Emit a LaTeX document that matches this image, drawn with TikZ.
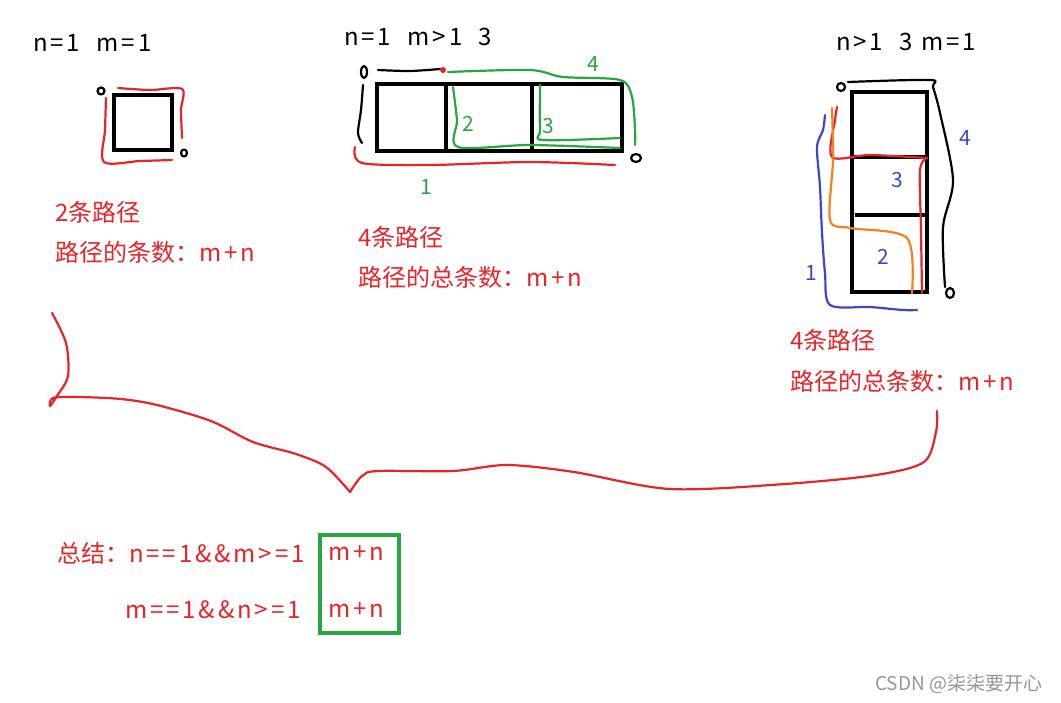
\documentclass[tikz,border=0pt]{standalone}
\usepackage{fontspec}
\setmainfont{Noto Sans CJK SC}
\newfontfamily\lt[LetterSpace=12]{Noto Sans CJK SC}
\definecolor{pred}{RGB}{232,36,40}
\definecolor{pgreen}{RGB}{38,168,64}
\definecolor{pblue}{RGB}{60,72,200}
\definecolor{porange}{RGB}{246,128,30}
\definecolor{wm}{RGB}{150,150,150}
\tikzset{
  cell/.style={draw=black, line width=4pt},
  pen/.style={line width=2.2pt, line cap=round, line join=round},
  redpen/.style={pen, draw=pred},
  greenpen/.style={pen, draw=pgreen},
  bluepen/.style={pen, draw=pblue},
  orangepen/.style={pen, draw=porange},
  blackpen/.style={pen, draw=black},
  ttl/.style={anchor=west, inner sep=0pt, font=\fontsize{24}{28}\selectfont, text=black},
  rtxt/.style={anchor=west, inner sep=0pt, font=\fontsize{24}{28}\selectfont, text=pred},
  hand/.style={inner sep=0pt, font=\fontsize{21}{24}\selectfont},
}
\begin{document}
\begin{tikzpicture}[x=1pt,y=-1pt]
\useasboundingbox[fill=white] (0,0) rectangle (1061,702);

% ---------- left case ----------
\node[ttl] (t1) at (33,43) {\lt n=1\ \ m=1};
\draw[cell] (114,95) rectangle (172,150);
\draw[blackpen] (101,91) ellipse (3.5 and 3.5);
\draw[blackpen] (184,153) ellipse (3 and 3.5);
\draw[redpen] plot[smooth] coordinates {(118,88) (150,90) (182,89) (181,110) (182,138)};
\draw[redpen] plot[smooth] coordinates {(106,98) (105,130) (104,162) (140,161) (172,160)};
\node[rtxt] (a1) at (55,212) {2条路径};
\node[rtxt] (a2) at (55,252) {路径的条数：{\lt m+n}};

% ---------- middle case ----------
\node[ttl] (t2) at (344,37) {\lt n=1\ \ m>1\ \ 3};
\draw[cell] (377,84) rectangle (622,151);
\draw[cell] (446,84) -- (446,151);
\draw[cell] (532,84) -- (532,151);
\draw[blackpen] (364,72) ellipse (3 and 6);
\draw[blackpen] plot[smooth] coordinates {(378,70) (410,71) (440,69)};
\fill[pred] (443,70) circle (3);
\draw[blackpen] plot[smooth] coordinates {(363,85) (361,110) (358,133) (362,143)};
\draw[redpen] plot[smooth] coordinates {(355,147) (362,163) (430,165) (530,162) (615,165)};
\draw[greenpen] plot[smooth] coordinates {(448,72) (530,70) (563,77) (620,80) (632,97) (635,130) (635,145)};
\draw[greenpen] plot[smooth] coordinates {(453,87) (457,120) (458,147) (530,145) (620,148)};
\draw[greenpen] plot[smooth] coordinates {(540,85) (540,130) (543,140) (620,138)};
\draw[blackpen] (636,158) ellipse (5 and 4);
\node[hand, text=pgreen] (g4) at (593,64) {4};
\node[hand, text=pgreen] (g2) at (468,124) {2};
\node[hand, text=pgreen] (g3) at (548,126) {3};
\node[hand, text=pgreen] (g1) at (426,187) {1};
\node[rtxt] (b1) at (358,237) {4条路径};
\node[rtxt] (b2) at (358,277) {路径的总条数：{\lt m+n}};

% ---------- right case ----------
\node[ttl] (t3) at (836,42) {\lt n>1\ \ 3 m=1};
\draw[cell] (852,92) rectangle (927,292);
\draw[cell] (852,157) -- (927,157);
\draw[cell] (855,215) -- (927,215);
\draw[blackpen] (841,87) ellipse (4 and 4);
\draw[blackpen] plot[smooth] coordinates {(848,82) (930,80) (933,87) (940,113) (953,180) (943,227) (945,287)};
\draw[blackpen] (950,293) ellipse (4 and 5);
\draw[bluepen] plot[smooth] coordinates {(825,115) (823,130) (817,147) (820,187) (822,233) (825,273) (830,305) (870,307) (903,310) (917,310)};
\draw[redpen] plot[smooth] coordinates {(837,107) (835,120) (832,157) (870,155) (927,158)};
\draw[redpen] plot[smooth] coordinates {(927,158) (920,170) (921,230) (922,293)};
\draw[orangepen] plot[smooth] coordinates {(832,108) (833,160) (830,220) (850,228) (907,238) (912,293)};
\node[hand, text=pblue] (u4) at (965,138) {4};
\node[hand, text=pblue] (u3) at (897,180) {3};
\node[hand, text=pblue] (u2) at (883,257) {2};
\node[hand, text=pblue] (u1) at (811,273) {1};
\node[rtxt] (c1) at (790,340) {4条路径};
\node[rtxt] (c2) at (790,381) {路径的总条数：{\lt m+n}};

% ---------- brace ----------
\draw[redpen] plot[smooth, tension=0.5] coordinates {(52,313) (66,343) (68,376) (57,396) (50,406) (53,398) (78,397) (121,399) (157,405) (211,421) (253,442) (296,454) (326,467) (350,492)};
\draw[redpen] plot[smooth, tension=0.5] coordinates {(350,492) (362,476) (378,471) (453,471) (507,465) (574,472) (670,489) (785,484) (876,475) (924,462) (936,432) (937,411)};

% ---------- summary ----------
\node[rtxt] (s1) at (57,553) {总结：{\lt n==1\&\&m>=1}};
\node[rtxt] (s2) at (125,610) {\lt m==1\&\&n>=1};
\node[rtxt] (r1) at (328,553) {\lt m+n};
\node[rtxt] (r2) at (328,610) {\lt m+n};
\draw[draw=pgreen, line width=4pt] (320,535) rectangle (399,633);

% ---------- watermark ----------
\node[anchor=west, inner sep=0pt, text=wm, font=\fontsize{19}{22}\selectfont] (wmk) at (875,684) {CSDN @柒柒要开心};
\end{tikzpicture}
\end{document}
